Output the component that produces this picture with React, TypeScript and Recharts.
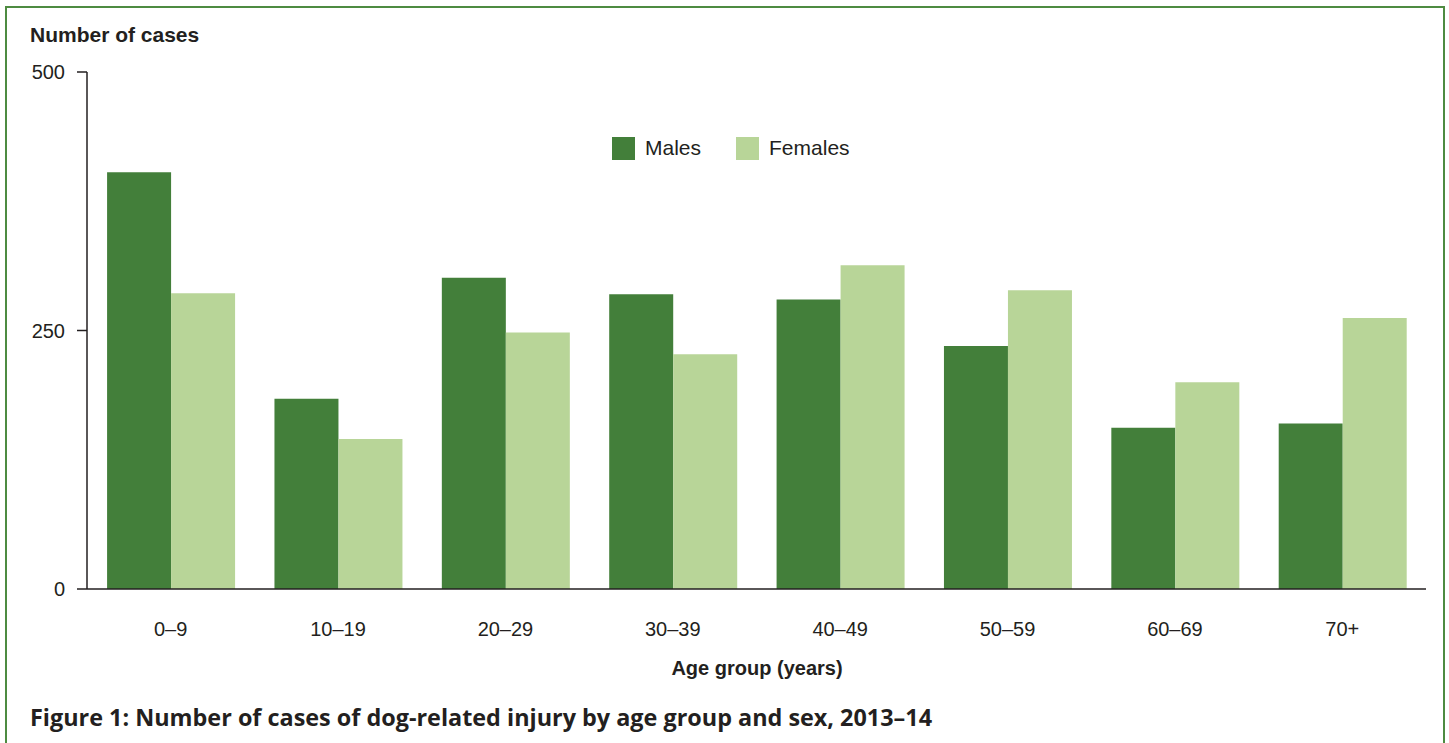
import React from 'react';
import { BarChart, Bar, XAxis, YAxis } from 'recharts';

const ageGroups = ['0–9', '10–19', '20–29', '30–39', '40–49', '50–59', '60–69', '70+'];
const males = [403, 184, 301, 285, 280, 235, 156, 160];
const females = [286, 145, 248, 227, 313, 289, 200, 262];
const yTicks = [0, 250, 500];
const seriesNames = ['Males', 'Females'];

const data = ageGroups.map((age, i) => ({ age, males: males[i], females: females[i] }));

const MALE = '#437f3a';
const FEMALE = '#b8d598';
const INK = '#231f20';
const FONT = 'Liberation Sans, Arial, sans-serif';

export default function App() {
  const colors = [MALE, FEMALE];
  return (
    <div style={{ position: 'absolute', left: 0, top: 0, width: 1449, height: 743, overflow: 'hidden', background: '#fff' }}>
      <div
        style={{
          position: 'absolute',
          left: 5,
          top: 6,
          width: 1436,
          height: 780,
          border: '2px solid #4e8b41',
        }}
      />
      <div style={{ position: 'absolute', left: 30, top: 23, fontFamily: FONT, fontWeight: 'bold', fontSize: 21, color: INK }}>
        Number of cases
      </div>
      <div style={{ position: 'absolute', left: 0, top: 0 }}>
        <BarChart
          width={1449}
          height={743}
          data={data}
          margin={{ top: 72, right: 23, left: 0, bottom: 100 }}
          barCategoryGap="12%"
          barGap={0}
        >
          <XAxis
            dataKey="age"
            height={54}
            tickLine={false}
            tickSize={0}
            tickMargin={33}
            axisLine={{ stroke: INK, strokeWidth: 1.5 }}
            tick={{ fill: INK, fontSize: 20, fontFamily: FONT }}
          />
          <YAxis
            width={87}
            domain={[0, 500]}
            ticks={yTicks}
            tickSize={10}
            tickMargin={12}
            axisLine={{ stroke: INK, strokeWidth: 1.5 }}
            tickLine={{ stroke: INK, strokeWidth: 1.5 }}
            tick={{ fill: INK, fontSize: 20, fontFamily: FONT }}
          />
          <Bar dataKey="males" name="Males" fill={MALE} isAnimationActive={false} />
          <Bar dataKey="females" name="Females" fill={FEMALE} isAnimationActive={false} />
        </BarChart>
      </div>
      <div
        style={{
          position: 'absolute',
          left: 612,
          top: 136,
          display: 'flex',
          alignItems: 'center',
          fontFamily: FONT,
          fontSize: 21,
          color: INK,
        }}
      >
        {seriesNames.map((name, i) => (
          <div key={name} style={{ display: 'flex', alignItems: 'center', marginRight: i === 0 ? 35 : 0 }}>
            <div style={{ width: 23, height: 23, background: colors[i], marginRight: 10 }} />
            <span>{name}</span>
          </div>
        ))}
      </div>
      <div
        style={{
          position: 'absolute',
          left: 557,
          width: 400,
          textAlign: 'center',
          top: 657,
          fontFamily: FONT,
          fontWeight: 'bold',
          fontSize: 20,
          color: INK,
        }}
      >
        Age group (years)
      </div>
      <div
        style={{
          position: 'absolute',
          left: 30,
          top: 701,
          fontFamily: '"Open Sans", sans-serif',
          fontWeight: 700,
          fontSize: 23.4,
          color: INK,
          whiteSpace: 'nowrap',
        }}
      >
        Figure 1: Number of cases of dog-related injury by age group and sex, 2013–14
      </div>
    </div>
  );
}
